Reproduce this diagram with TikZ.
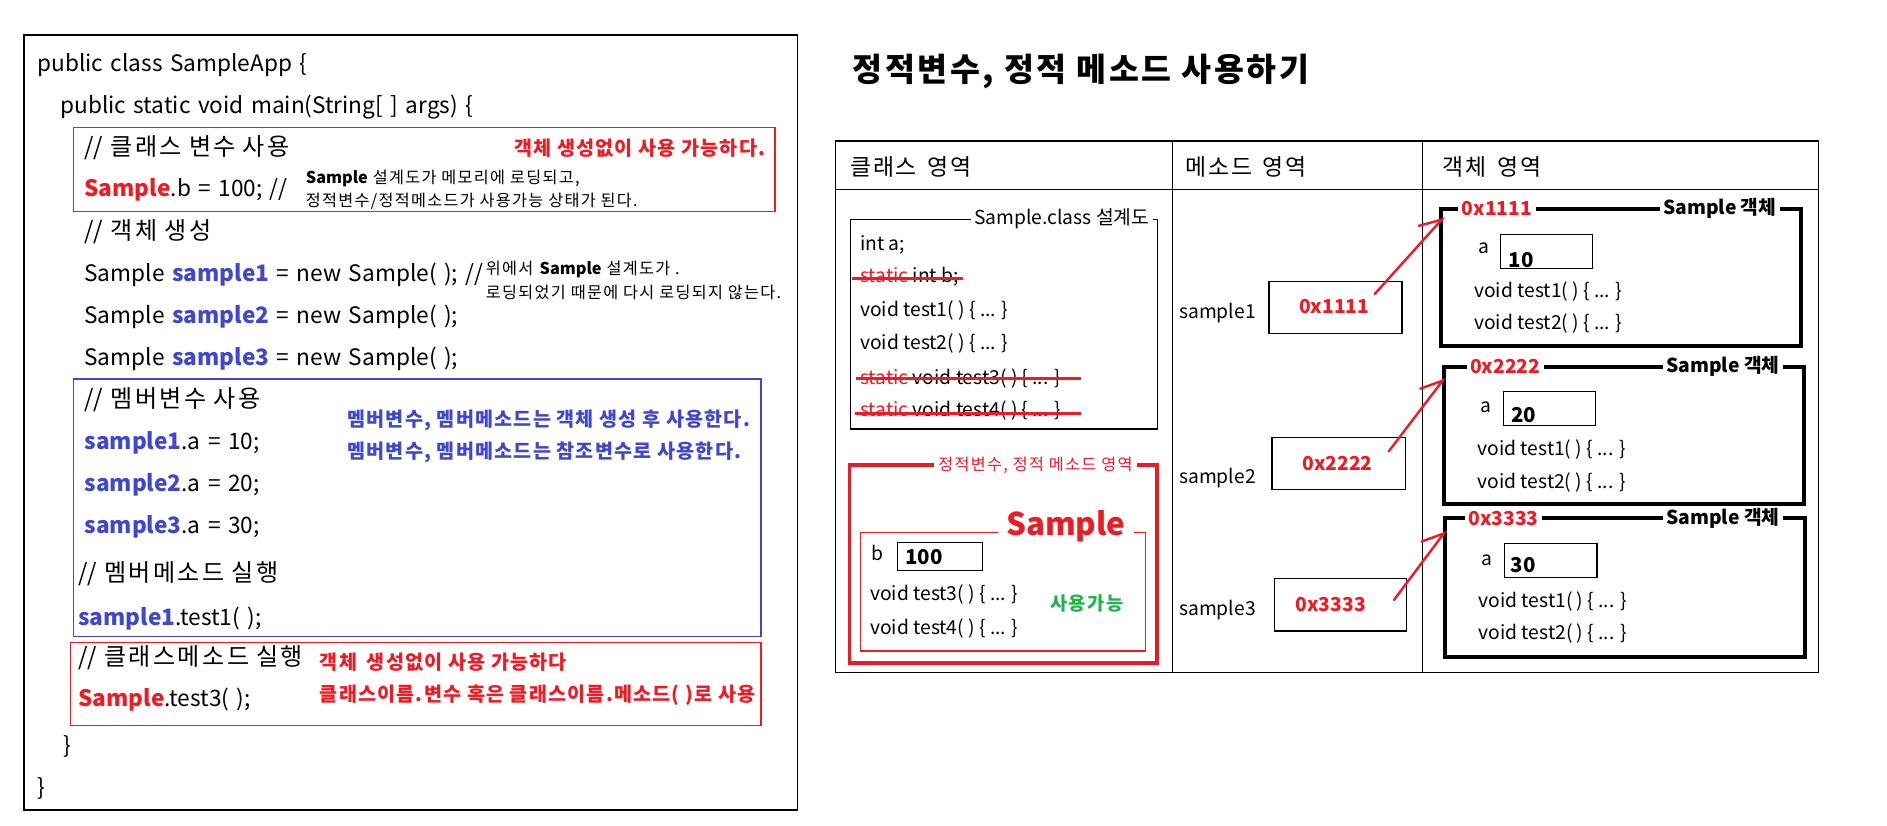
\documentclass[tikz,border=0pt]{standalone}
\usepackage{fontspec}
\setmainfont{Noto Sans CJK KR}
\usetikzlibrary{arrows.meta}
\definecolor{myred}{RGB}{237,28,36}
\definecolor{myblue}{RGB}{63,72,204}
\definecolor{mygreen}{RGB}{34,177,76}
\newcommand\myfs[1]{\fontsize{#1}{#1}\selectfont}
\newcommand\ko{\addfontfeature{LetterSpace=8}}
\newcommand\kos[1]{\addfontfeature{LetterSpace=#1}}
\newcommand\wsp[1]{\spaceskip #1\relax}
\newcommand\nols[1]{{\addfontfeature{LetterSpace=0}#1}}
\newcommand\rb[1]{\textcolor{myred}{\bfseries #1}}
\newcommand\bb[1]{\textcolor{myblue}{\bfseries #1}}
\begin{document}
\begin{tikzpicture}[x=1pt,y=-1pt,
  code/.style={anchor=west,inner sep=0pt,font=\myfs{18.8}\wsp{0.33em}},
  kcode/.style={anchor=west,inner sep=0pt,font=\myfs{20}\kos{10}\wsp{0.3em}},
  small/.style={anchor=west,inner sep=0pt,font=\myfs{13.5}\ko},
  note/.style={anchor=west,inner sep=0pt,font=\myfs{16.3}\bfseries\kos{6}},
  cell/.style={anchor=west,inner sep=0pt,font=\myfs{16}},
  head/.style={anchor=west,inner sep=0pt,font=\myfs{19}\ko},
  val/.style={anchor=west,inner sep=0pt,font=\myfs{17}\bfseries},
  frame/.style={draw,line width=1pt,inner sep=0pt,outer sep=0pt},
  thick frame/.style={draw,line width=3.5pt,inner sep=0pt,outer sep=0pt},
  ftitle/.style={fill=white,inner xsep=3pt,inner ysep=1pt},
  strike/.style={draw=myred,line width=2.5pt},
  ref/.style={draw=myred,line width=2pt,line cap=round,-{Straight Barb[left,length=17pt,width=22pt]}}
]
\fill[white] (0,0) rectangle (1568,686);
\useasboundingbox (0,0) rectangle (1568,686);

% ---------------- left code panel ----------------
\node[frame,minimum width=643pt,minimum height=644pt] (codebox) at (341.5,351) {};
\node[code] (l1) at (31,54) {public class SampleApp \{};
\node[code] (l2) at (50,88.6) {public static void main(String[ ] args) \{};
\node[frame,draw=myred,minimum width=583pt,minimum height=70pt] (rbox1) at (352.5,141) {};
\node[kcode] (l3) at (70,123) {\nols{//} 클래스 변수 사용};
\node[note,text=myred,anchor=east] (n1) at (636,123) {객체 생성없이 사용 가능하다.};
\node[code] (l4) at (70,158) {\rb{Sample}.b = 100; //};
\node[small] (s1) at (254,148) {\textbf{\nols{Sample}} 설계도가 메모리에 로딩되고,};
\node[small] (s2) at (254,167.6) {정적변수/정적메소드가 사용가능 상태가 된다.};
\node[kcode] (l5) at (70,192.5) {\nols{//} 객체 생성};
\node[code] (l6) at (70,228.5) {Sample \bb{sample1} = new Sample( ); //};
\node[small] (s3) at (403.6,223.8) {위에서 \textbf{\nols{Sample}} 설계도가 .};
\node[small] (s4) at (403.6,243.2) {로딩되었기 때문에 다시 로딩되지 않는다.};
\node[code] (l7) at (70,263.2) {Sample \bb{sample2} = new Sample( );};
\node[code] (l8) at (70,298) {Sample \bb{sample3} = new Sample( );};
\node[frame,draw=myblue,minimum width=571.4pt,minimum height=214pt] (bbox) at (346.7,422) {};
\node[kcode] (l9) at (70,332.4) {\nols{//} 멤버변수 사용};
\node[note,text=myblue] (n2) at (288.5,349) {멤버변수, 멤버메소드는 객체 생성 후 사용한다.};
\node[note,text=myblue] (n3) at (288.5,376) {멤버변수, 멤버메소드는 참조변수로 사용한다.};
\node[code] (l10) at (70,367.8) {\bb{sample1}.a = 10;};
\node[code] (l11) at (70,403) {\bb{sample2}.a = 20;};
\node[code] (l12) at (70,437.6) {\bb{sample3}.a = 30;};
\node[kcode] (l13) at (64.8,476.4) {\nols{//} 멤버메소드 실행};
\node[code] (l14) at (64.8,513.8) {\bb{sample1}.test1( );};
\node[frame,draw=myred,minimum width=573.9pt,minimum height=68.7pt] (rbox2) at (345.45,568.35) {};
\node[kcode] (l15) at (64.8,546.5) {\nols{//} 클래스메소드 실행};
\node[note,text=myred] (n4) at (265.6,549.8) {객체\hspace{0.5em}생성없이 사용 가능하다};
\node[code] (l16) at (64.8,581.6) {\rb{Sample}.test3( );};
\node[note,text=myred] (n5) at (265.6,577.5) {클래스이름.변수 혹은 클래스이름.메소드( )로 사용};
\node[code] (l17) at (52.2,620.6) {\}};
\node[code] (l18) at (31.3,655.2) {\}};

% ---------------- right side ----------------
\node[anchor=west,inner sep=0pt,font=\myfs{27}\bfseries\ko] (title) at (708.5,59.6) {정적변수, 정적 메소드 사용하기};

\node[frame,minimum width=816.5pt,minimum height=441.8pt] (tbl) at (1102.75,338.1) {};
\draw[line width=1pt] (694.5,157.3) -- (1511,157.3);
\draw[line width=1pt] (974.5,117.2) -- (974.5,559);
\draw[line width=1pt] (1182,117.2) -- (1182,559);
\node[head] (h1) at (706.3,138.5) {클래스\hspace{0.47em}영역};
\node[head] (h2) at (984.7,138.5) {메소드\hspace{0.47em}영역};
\node[head] (h3) at (1198.8,138.5) {객체\hspace{0.47em}영역};

% class blueprint
\node[frame,minimum width=254.8pt,minimum height=174.2pt] (cls) at (834.3,269.4) {};
\node[ftitle,font=\myfs{16}] (clst) at (882.2,181.4) {Sample.class 설계도};
\node[cell] (c1) at (714.6,203.6) {int a;};
\node[cell] (c2) at (714.6,229.9) {\textcolor{myred}{static} int b;};
\node[cell] (c3) at (714.6,257.6) {void test1( ) \{ ... \}};
\node[cell] (c4) at (714.6,285.3) {void test2( ) \{ ... \}};
\node[cell] (c5) at (714.6,314.4) {\textcolor{myred}{static} void test3( ) \{ ... \}};
\node[cell] (c6) at (714.6,340.8) {\textcolor{myred}{static} void test4( ) \{ ... \}};
\draw[strike] (707.7,231.2) -- (800.5,231.2);
\draw[strike] (711.3,314.9) -- (898,314.9);
\draw[strike] (710.5,343.4) -- (898,343.4);

% static area
\node[thick frame,draw=myred,line width=3pt,minimum width=255.4pt,minimum height=164.3pt] (sta) at (833.5,468.55) {};
\node[ftitle,inner xsep=4pt,text=myred,font=\myfs{13.5}\ko] (stat) at (860.4,386.4) {정적변수, 정적 메소드 영역};
\node[frame,draw=myred,minimum width=236.7pt,minimum height=98.4pt] (scls) at (833.35,491.8) {};
\node[ftitle,inner xsep=7pt,inner ysep=0pt,text=myred,font=\myfs{26}\bfseries] (sclst) at (885.7,437.6) {Sample};
\node[cell] (sb) at (724.3,459.8) {b};
\node[frame,minimum width=70.9pt,minimum height=23.3pt] (sbv) at (781.15,462.25) {};
\node[val] (sbt) at (752,462.6) {100};
\node[cell] (st3) at (722.9,494.4) {void test3( ) \{ ... \}};
\node[cell] (st4) at (722.9,522.1) {void test4( ) \{ ... \}};
\node[inner sep=0pt,text=mygreen,font=\myfs{15.5}\bfseries\ko] (use) at (902.9,501.3) {사용가능};

% method area
\node[cell] (v1) at (979.7,260) {sample1};
\node[cell] (v2) at (979.7,397) {sample2};
\node[cell] (v3) at (979.7,507) {sample3};
\node[frame,minimum width=110.5pt,minimum height=43.1pt] (m1) at (1109.75,255.35) {};
\node[frame,minimum width=111pt,minimum height=43.5pt] (m2) at (1112.5,385.25) {};
\node[frame,minimum width=110pt,minimum height=43.4pt] (m3) at (1114,502.7) {};
\node[inner sep=0pt,text=myred,font=\myfs{16}\bfseries] (m1t) at (1108.6,255) {0x1111};
\node[inner sep=0pt,text=myred,font=\myfs{16}\bfseries] (m2t) at (1111.4,385) {0x2222};
\node[inner sep=0pt,text=myred,font=\myfs{16}\bfseries] (m3t) at (1105.8,502.4) {0x3333};

% object area
\node[thick frame,minimum width=298.9pt,minimum height=114.1pt] (o1) at (1346.85,230.45) {};
\node[thick frame,minimum width=299.1pt,minimum height=114.1pt] (o2) at (1349.45,361.75) {};
\node[thick frame,minimum width=299.1pt,minimum height=115pt] (o3) at (1350.35,488.2) {};
\node[ftitle,anchor=west,text=myred,font=\myfs{16}\bfseries] (o1a) at (1211.6,173.4) {0x1111};
\node[ftitle,anchor=east,font=\myfs{16}\bfseries] (o1b) at (1479.3,173.4) {Sample 객체};
\node[ftitle,anchor=west,text=myred,font=\myfs{16}\bfseries] (o2a) at (1218.5,304.7) {0x2222};
\node[ftitle,anchor=east,font=\myfs{16}\bfseries] (o2b) at (1481.9,304.7) {Sample 객체};
\node[ftitle,anchor=west,text=myred,font=\myfs{16}\bfseries] (o3a) at (1217,430.7) {0x3333};
\node[ftitle,anchor=east,font=\myfs{16}\bfseries] (o3b) at (1482,430.7) {Sample 객체};

\node[cell] (o1x) at (1228.5,206.3) {a};
\node[frame,minimum width=76.4pt,minimum height=27.9pt] (o1v) at (1285,208.85) {};
\node[val] (o1vt) at (1253.5,216.3) {10};
\node[cell] (o1m1) at (1224.9,242.3) {void test1( ) \{ ... \}};
\node[cell] (o1m2) at (1224.9,269) {void test2( ) \{ ... \}};

\node[cell] (o2x) at (1230.4,338.5) {a};
\node[frame,minimum width=77pt,minimum height=28pt] (o2v) at (1287.5,339.5) {};
\node[val] (o2vt) at (1255.4,344.6) {20};
\node[cell] (o2m1) at (1227.6,373.9) {void test1( ) \{ ... \}};
\node[cell] (o2m2) at (1227.6,401.1) {void test2( ) \{ ... \}};

\node[cell] (o3x) at (1231,465.3) {a};
\node[frame,minimum width=77pt,minimum height=28pt] (o3v) at (1288.5,465.8) {};
\node[val] (o3vt) at (1255,469.5) {30};
\node[cell] (o3m1) at (1228.5,499.9) {void test1( ) \{ ... \}};
\node[cell] (o3m2) at (1228.5,526.3) {void test2( ) \{ ... \}};

% reference arrows
\coordinate (a1s) at (1142.4,244.2);
\coordinate (a1e) at (1200.2,180);
\coordinate (a2s) at (1154,375);
\coordinate (a2e) at (1200.8,313.6);
\coordinate (a3s) at (1158.3,498.5);
\coordinate (a3e) at (1201.8,440.5);
\draw[ref] (a1s) -- (a1e);
\draw[ref] (a2s) -- (a2e);
\draw[ref] (a3s) -- (a3e);
\end{tikzpicture}
\end{document}
